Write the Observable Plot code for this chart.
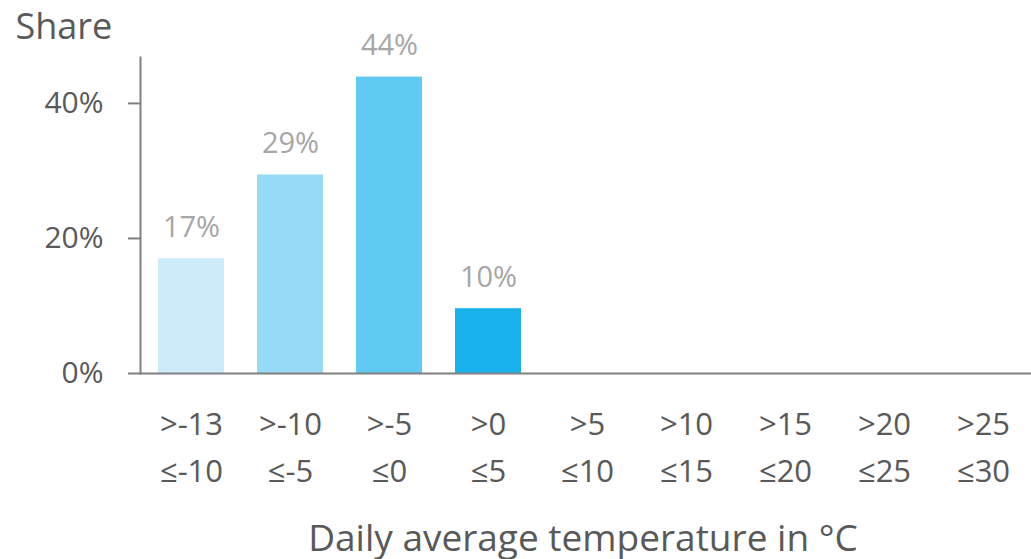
<!DOCTYPE html>
<html>
<head>
<meta charset="utf-8">
<script src="https://cdn.jsdelivr.net/npm/d3@7"></script>
<script src="https://cdn.jsdelivr.net/npm/@observablehq/plot@0.6"></script>
<style>
  body { margin: 0; background: #fff; }
  #chart svg { display: block; }
</style>
</head>
<body>
<div id="chart"></div>
<script>
const categories = [">-13\n≤-10", ">-10\n≤-5", ">-5\n≤0", ">0\n≤5", ">5\n≤10", ">10\n≤15", ">15\n≤20", ">20\n≤25", ">25\n≤30"];
const shares = [17.0, 29.4, 43.9, 9.6, 0, 0, 0, 0, 0];
const barColors = ["#CCECFA", "#97DAF6", "#5FCAF2", "#1AB2EC", "#1AB2EC", "#1AB2EC", "#1AB2EC", "#1AB2EC", "#1AB2EC"];
const yTicks = [0, 20, 40];
const yLabel = "Share";
const xLabel = "Daily average temperature in °C";

const data = categories.map((c, i) => ({cat: c, v: shares[i], color: barColors[i]}));
const nonzero = data.filter(d => d.v > 0);

const font = "'Open Sans', Roboto, sans-serif";
const axisColor = "#808080";
const textColor = "#595959";

const chart = Plot.plot({
  width: 1031,
  height: 559,
  marginLeft: 140,
  marginRight: 0,
  marginTop: 57,
  marginBottom: 186,
  style: {fontFamily: font, background: "#fff"},
  x: {domain: categories, range: [140, 1035], paddingInner: 0.33, paddingOuter: 0.165, label: null},
  y: {domain: [0, 46.8], label: null},
  marks: [
    Plot.barY(nonzero, {x: "cat", y: "v", fill: "color"}),
    Plot.text(nonzero, {x: "cat", y: "v", text: d => Math.round(d.v) + "%", lineAnchor: "bottom", dy: -22, fill: "#A6A6A6", fontSize: 29}),
    Plot.frame({anchor: "left", stroke: axisColor, strokeWidth: 2}),
    Plot.ruleY([0], {stroke: axisColor, strokeWidth: 2}),
    Plot.axisY({ticks: yTicks, tickFormat: d => d + "%", tickSize: 12, tickPadding: 25, stroke: axisColor, strokeWidth: 2, fill: textColor, fontSize: 30, label: null, color: textColor}),
    Plot.axisX({tickSize: 0, tickPadding: 28, lineHeight: 1.52, fontSize: 31, fill: textColor, color: textColor, label: null}),
    Plot.text([yLabel], {frameAnchor: "top-left", textAnchor: "start", lineAnchor: "top", dx: -125, dy: -44, fontSize: 36, fill: textColor}),
    Plot.text([xLabel], {frameAnchor: "bottom", lineAnchor: "bottom", dx: -3, dy: 177, fontSize: 37, fill: textColor})
  ]
});
document.getElementById("chart").appendChild(chart);
</script>
</body>
</html>
